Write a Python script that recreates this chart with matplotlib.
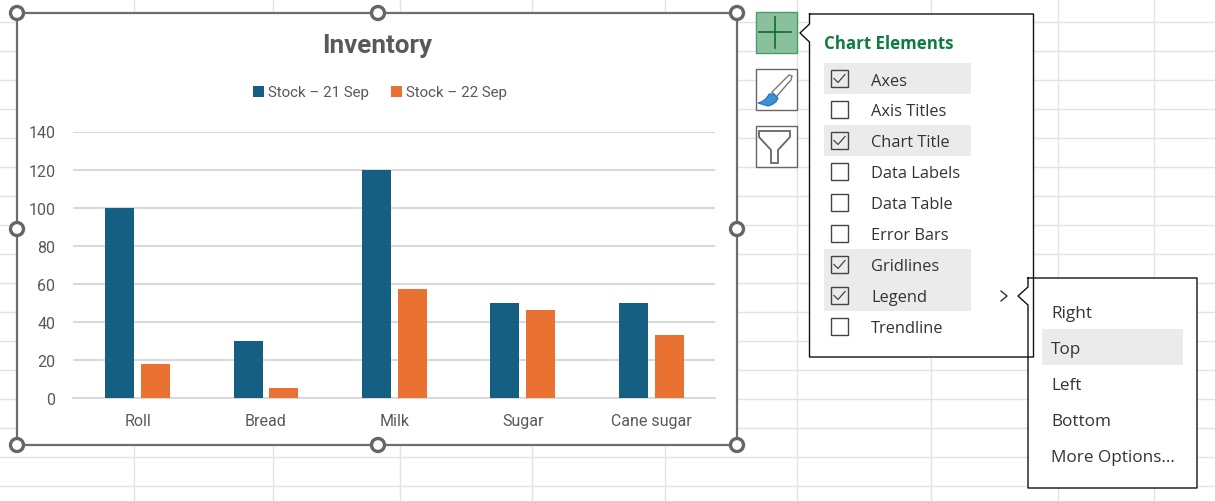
from matplotlib import pyplot as plt
from matplotlib.patches import Rectangle, Polygon, Circle, PathPatch
from matplotlib.path import Path
import numpy as np

W, H = 1215, 502

categories = ['Roll', 'Bread', 'Milk', 'Sugar', 'Cane sugar']
stock_21 = [100, 30, 120, 50, 50]
stock_22 = [18, 5, 57, 46, 33]
series_names = ['Stock – 21 Sep', 'Stock – 22 Sep']
y_ticks = [0, 20, 40, 60, 80, 100, 120, 140]

menu_items = ['Axes', 'Axis Titles', 'Chart Title', 'Data Labels', 'Data Table',
              'Error Bars', 'Gridlines', 'Legend', 'Trendline']
menu_checked = [True, False, True, False, False, False, True, True, False]
legend_options = ['Right', 'Top', 'Left', 'Bottom', 'More Options...']

UI_FONT = 'Open Sans'
CHART_FONT = 'Roboto'
TEXT_GREY = '#595959'

fig = plt.figure(figsize=(W / 100, H / 100), dpi=100, facecolor='white')

# Everything that is Excel window rather than chart, in pixel coordinates
ui = fig.add_axes([0, 0, 1, 1], zorder=0)
ui.set_xlim(0, W)
ui.set_ylim(H - 1, -1)
ui.axis('off')

# Sheet cells
for y in range(22, H, 29):
    ui.plot([0, W], [y, y], color='#e3e3e3', lw=1, zorder=1)
for x in [134, 273, 400, 532, 665, 797, 931, 1058, 1154]:
    ui.plot([x, x], [0, H], color='#e3e3e3', lw=1, zorder=1)

# Chart frame and handles
ui.add_patch(Rectangle((17, 13), 720, 432, fc='white', ec='#6e6e6e', lw=1.6, zorder=2))
for hx, hy in [(17, 13), (378, 13), (737, 13), (17, 229), (737, 229), (17, 445), (378, 445), (737, 445)]:
    ui.add_patch(Circle((hx, hy), 6.5, fc='white', ec='#666666', lw=2.4, zorder=3))

# Side buttons
ui.add_patch(Rectangle((755.5, 12), 41, 41, fc='#8ac19c', ec='#4a9c6a', lw=1, zorder=2))
ui.plot([759, 791], [32, 32], color='#0f6b30', lw=1.2, zorder=3)
ui.plot([775, 775], [17, 48], color='#0f6b30', lw=1.2, zorder=3)

ui.add_patch(Rectangle((755.5, 69), 41, 41, fc='white', ec='#666666', lw=1, zorder=2))
handle = Polygon([(772, 92), (789, 75), (792, 76), (791, 80), (776, 97)], closed=True,
                 fc='white', ec='#777777', lw=1, zorder=3)
ui.add_patch(handle)
brush = Path([(758, 103), (766, 101), (769, 94), (774, 94), (778, 98), (776, 104), (768, 106), (758, 103)],
             [Path.MOVETO, Path.CURVE3, Path.CURVE3, Path.LINETO, Path.LINETO, Path.CURVE3, Path.CURVE3, Path.CLOSEPOLY])
ui.add_patch(PathPatch(brush, fc='#3f8fd6', ec='#1f6fbf', lw=0.8, zorder=4))

ui.add_patch(Rectangle((755.5, 126), 41, 41, fc='white', ec='#666666', lw=1, zorder=2))
ui.add_patch(Polygon([(759, 131), (790, 131), (790, 137), (778, 150), (778, 163), (771, 163),
                      (771, 150), (759, 137)], closed=True, fc='white', ec='#666666', lw=1.3, zorder=3))


def flyout(x0, y0, x1, y1, tip_x, tip_y):
    # popup box with the little arrow on its left edge
    pts = [(x0, y0), (x1, y0), (x1, y1), (x0, y1), (x0, tip_y + 9), (tip_x, tip_y), (x0, tip_y - 9)]
    ui.add_patch(Polygon(pts, closed=True, fc='white', ec='none', zorder=5))
    pts.append(pts[0])
    ui.plot([p[0] for p in pts], [p[1] for p in pts], color='#111111', lw=1, zorder=6)


# Chart Elements panel
flyout(809.5, 14, 1033.5, 357, 800, 33)
ui.text(824, 43, 'Chart Elements', color='#107c41', fontsize=12.2, fontweight='bold', family=UI_FONT,
        va='center', ha='left', zorder=7)
row_y = 78.5
row_step = 31
for i, item in enumerate(menu_items):
    y = row_y + i * row_step
    if menu_checked[i]:
        ui.add_patch(Rectangle((824, y - 15.5), 147, 31, fc='#ebebeb', ec='none', zorder=6))
    ui.add_patch(Rectangle((831, y - 8.5), 17, 17, fc='#ebebeb' if menu_checked[i] else 'white',
                           ec='#444444', lw=1, zorder=7))
    if menu_checked[i]:
        ui.plot([834, 838, 845], [y, y + 4, y - 4], color='#444444', lw=0.9, zorder=8)
    ui.text(871, y + 2, item, color='#333333', fontsize=11.8, family=UI_FONT, va='center', ha='left', zorder=8)
ui.plot([1001, 1007, 1001], [291, 296, 301], color='#333333', lw=1, zorder=7)

# Legend position submenu
flyout(1028, 278, 1197, 488, 1018, 296)
ui.add_patch(Rectangle((1042, 329), 141, 36, fc='#ebebeb', ec='none', zorder=6))
for i, option in enumerate(legend_options):
    ui.text(1051, 313 + i * 36, option, color='#333333', fontsize=12.3, family=UI_FONT,
            va='center', ha='left', zorder=8)

# The chart itself
ax = fig.add_axes([73.4 / W, 1 - 399 / H, (715 - 73) / W, (399 - 132.5) / H], zorder=1)
ax.patch.set_alpha(0)
x = np.arange(len(categories))
bar_w = 0.226
off = 0.14
b1 = ax.bar(x - off, stock_21, bar_w, color='#156082', label=series_names[0], zorder=3)
b2 = ax.bar(x + off, stock_22, bar_w, color='#e97132', label=series_names[1], zorder=3)
ax.set_xlim(-0.5, len(categories) - 0.5)
ax.set_ylim(0, 140)
ax.set_yticks(y_ticks)
ax.set_xticks(x)
ax.set_xticklabels(categories, fontsize=11.5, color=TEXT_GREY, family=CHART_FONT)
ax.tick_params(axis='x', length=0, pad=11)
ax.tick_params(axis='y', length=0, pad=13, labelsize=11.5, labelcolor=TEXT_GREY)
for lab in ax.get_yticklabels():
    lab.set_family(CHART_FONT)
ax.grid(axis='y', color='#d9d9d9', lw=1.5, zorder=0)
ax.set_axisbelow(True)
for name in ['top', 'right', 'left']:
    ax.spines[name].set_visible(False)
ax.spines['bottom'].set_color('#d9d9d9')
ax.spines['bottom'].set_linewidth(1.5)

fig.text(377 / W, 1 - 46 / H, 'Inventory', fontsize=18.7, fontweight='bold', color=TEXT_GREY,
         family=CHART_FONT, ha='center', va='center', zorder=3)
leg = fig.legend(handles=[b1, b2], labels=series_names, ncol=2, frameon=False,
                 loc='center', bbox_to_anchor=(380 / W, 1 - 93.5 / H),
                 prop={'family': CHART_FONT, 'size': 10.9}, labelcolor=TEXT_GREY,
                 handlelength=0.75, handleheight=0.75, handletextpad=0.3, columnspacing=1.4)

fig.savefig('out.png', dpi=100)
